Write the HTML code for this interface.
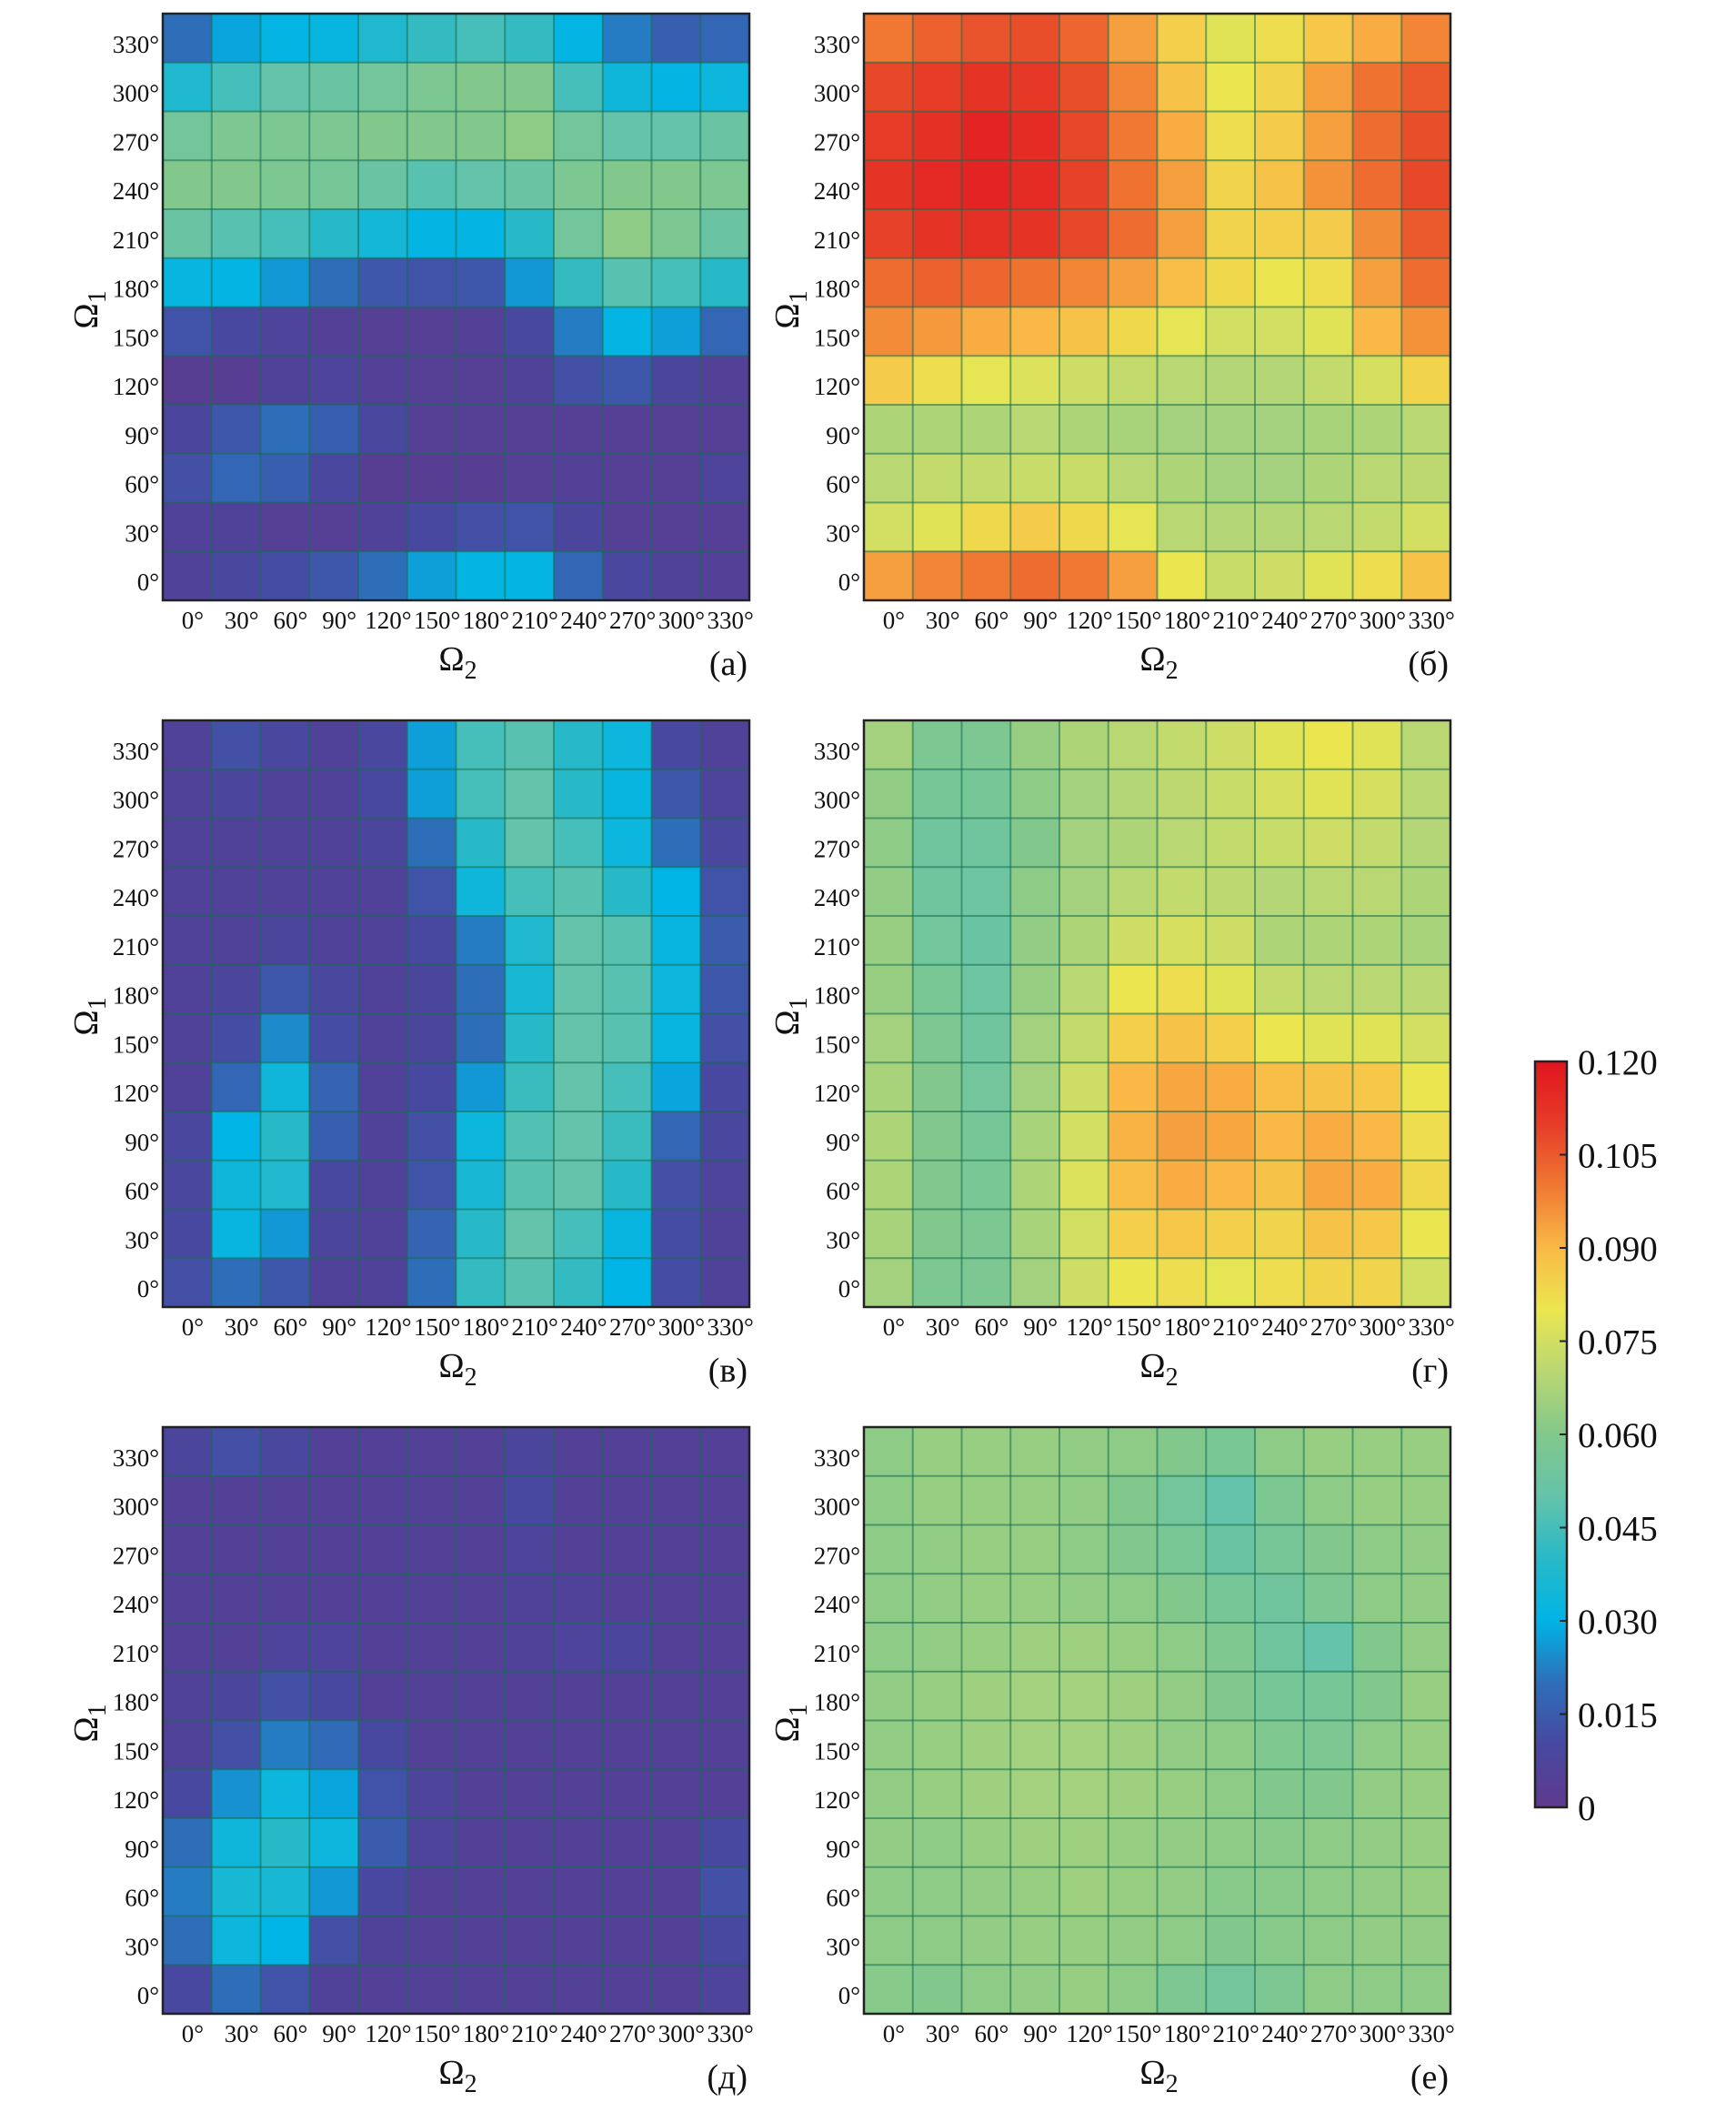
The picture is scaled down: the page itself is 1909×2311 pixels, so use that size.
<!DOCTYPE html>
<html><head><meta charset="utf-8">
<style>
html,body{margin:0;padding:0;background:#fff;}
svg{display:block;}
text{font-family:"Liberation Serif","DejaVu Serif",serif;fill:#111;}
</style></head>
<body>
<svg id="fig" width="1909" height="2311" viewBox="0 0 1909 2311" xmlns="http://www.w3.org/2000/svg"></svg>
<script>
// Categories
const omega2Labels = ["0°","30°","60°","90°","120°","150°","180°","210°","240°","270°","300°","330°"];
const omega1Labels = ["330°","300°","270°","240°","210°","180°","150°","120°","90°","60°","30°","0°"]; // top to bottom
const colorbarTicks = [0,0.015,0.030,0.045,0.060,0.075,0.090,0.105,0.120];
const colorbarTickLabels = ["0","0.015","0.030","0.045","0.060","0.075","0.090","0.105","0.120"];
const panelLetters = ["(a)","(б)","(в)","(г)","(д)","(е)"];

// Values: rows from Ω1=330° (top) to 0° (bottom), columns Ω2=0..330°
const panelA = [
[.02,.028,.031,.032,.038,.042,.045,.042,.031,.022,.016,.018],
[.038,.045,.05,.052,.055,.058,.06,.06,.045,.034,.031,.033],
[.055,.058,.058,.058,.06,.06,.06,.062,.055,.05,.05,.052],
[.06,.06,.058,.056,.052,.048,.05,.052,.058,.06,.06,.058],
[.052,.048,.045,.04,.035,.031,.031,.04,.055,.062,.058,.052],
[.032,.031,.026,.02,.014,.013,.014,.026,.042,.048,.045,.04],
[.013,.01,.007,.005,.004,.004,.005,.01,.022,.031,.027,.018],
[.003,.003,.006,.007,.005,.004,.004,.006,.012,.014,.008,.005],
[.008,.014,.02,.016,.009,.004,.004,.004,.004,.004,.004,.004],
[.012,.018,.016,.009,.003,.003,.003,.004,.005,.004,.004,.007],
[.006,.006,.004,.004,.006,.01,.012,.013,.008,.004,.004,.004],
[.006,.009,.011,.014,.02,.027,.031,.031,.018,.009,.006,.005]];
const panelB = [
[.1,.104,.106,.107,.103,.094,.085,.078,.082,.087,.092,.098],
[.108,.11,.112,.111,.107,.098,.088,.08,.084,.094,.101,.105],
[.11,.113,.116,.114,.108,.1,.092,.082,.086,.094,.102,.107],
[.112,.115,.116,.114,.109,.101,.094,.084,.088,.096,.102,.108],
[.109,.112,.113,.112,.108,.102,.094,.084,.085,.086,.097,.105],
[.102,.104,.103,.101,.098,.094,.089,.083,.08,.082,.094,.102],
[.097,.095,.092,.09,.088,.083,.079,.075,.075,.078,.09,.096],
[.086,.082,.079,.077,.074,.072,.07,.069,.069,.072,.076,.084],
[.068,.068,.068,.07,.068,.067,.066,.066,.066,.067,.068,.07],
[.07,.072,.072,.073,.073,.07,.068,.066,.066,.068,.07,.071],
[.075,.078,.083,.086,.083,.079,.07,.069,.069,.07,.072,.075],
[.094,.098,.1,.102,.1,.094,.08,.073,.074,.078,.082,.088]];
const panelV = [
[.006,.012,.009,.006,.009,.027,.045,.048,.04,.033,.01,.006],
[.006,.008,.006,.006,.01,.027,.045,.05,.04,.032,.014,.007],
[.006,.006,.006,.006,.008,.02,.04,.05,.045,.033,.02,.009],
[.006,.006,.006,.006,.006,.013,.034,.045,.048,.04,.03,.013],
[.006,.006,.008,.006,.006,.01,.022,.038,.05,.048,.032,.015],
[.006,.008,.014,.009,.006,.008,.02,.036,.05,.048,.033,.014],
[.006,.011,.024,.011,.006,.008,.02,.04,.05,.048,.032,.012],
[.006,.018,.034,.017,.006,.01,.026,.043,.05,.045,.028,.01],
[.009,.03,.04,.016,.006,.012,.033,.047,.05,.043,.018,.009],
[.009,.034,.038,.01,.006,.013,.036,.048,.05,.04,.012,.007],
[.01,.032,.026,.008,.006,.017,.04,.05,.045,.032,.011,.006],
[.012,.02,.014,.006,.006,.02,.042,.048,.042,.03,.011,.006]];
const panelG = [
[.066,.058,.058,.064,.068,.07,.072,.074,.078,.08,.078,.07],
[.063,.056,.056,.062,.066,.069,.071,.073,.076,.078,.076,.07],
[.062,.054,.054,.06,.066,.068,.07,.072,.073,.074,.072,.069],
[.063,.054,.053,.062,.066,.07,.072,.071,.069,.07,.07,.068],
[.064,.055,.052,.063,.068,.074,.076,.074,.068,.068,.068,.067],
[.064,.057,.053,.064,.07,.08,.082,.078,.072,.07,.07,.07],
[.066,.058,.054,.066,.072,.085,.088,.085,.08,.078,.078,.075],
[.067,.06,.055,.066,.074,.09,.093,.092,.089,.088,.087,.08],
[.068,.06,.056,.067,.075,.091,.094,.093,.09,.092,.09,.082],
[.068,.06,.057,.068,.077,.089,.092,.09,.088,.093,.092,.083],
[.067,.06,.058,.067,.075,.085,.087,.085,.084,.088,.087,.08],
[.066,.058,.058,.066,.074,.08,.082,.079,.082,.084,.084,.075]];
const panelD = [
[.008,.012,.009,.005,.005,.005,.005,.008,.005,.005,.005,.005],
[.005,.005,.005,.005,.005,.005,.005,.01,.005,.005,.005,.005],
[.005,.005,.005,.005,.005,.005,.005,.007,.005,.005,.005,.005],
[.005,.005,.005,.005,.005,.005,.005,.006,.006,.005,.005,.005],
[.005,.005,.007,.007,.005,.005,.005,.006,.007,.008,.005,.005],
[.006,.008,.012,.01,.005,.005,.005,.005,.005,.005,.005,.005],
[.006,.012,.022,.019,.01,.005,.005,.005,.005,.005,.005,.005],
[.01,.025,.033,.028,.013,.007,.005,.005,.005,.005,.005,.005],
[.02,.034,.04,.033,.015,.007,.005,.005,.005,.005,.005,.01],
[.022,.036,.036,.026,.01,.005,.005,.005,.005,.005,.005,.012],
[.02,.033,.03,.012,.006,.005,.005,.005,.005,.005,.005,.01],
[.01,.02,.013,.006,.005,.005,.005,.005,.005,.005,.005,.007]];
const panelE = [
[.062,.064,.064,.064,.063,.062,.06,.057,.062,.064,.064,.064],
[.062,.064,.064,.064,.063,.06,.055,.05,.058,.062,.064,.064],
[.062,.063,.064,.064,.062,.06,.057,.052,.056,.06,.062,.063],
[.062,.063,.064,.064,.063,.062,.06,.056,.054,.058,.062,.063],
[.062,.063,.064,.065,.065,.064,.062,.059,.054,.05,.06,.063],
[.063,.064,.065,.066,.066,.065,.063,.06,.056,.056,.06,.064],
[.063,.064,.065,.066,.066,.065,.063,.062,.059,.058,.062,.064],
[.063,.064,.065,.066,.066,.065,.064,.062,.06,.06,.063,.064],
[.063,.062,.064,.065,.065,.064,.063,.062,.061,.062,.063,.064],
[.062,.062,.063,.064,.065,.064,.063,.061,.061,.062,.063,.064],
[.062,.062,.063,.064,.064,.063,.062,.06,.061,.062,.063,.063],
[.061,.06,.062,.063,.064,.062,.058,.055,.058,.062,.062,.062]];

const NS = "http://www.w3.org/2000/svg";
const svg = document.getElementById("fig");
const vmin = 0, vmax = 0.12;
const cmapStops = [
 [0,[94,58,142]],[0.01,[72,72,160]],[0.02,[46,110,185]],[0.03,[0,180,230]],
 [0.04,[40,185,200]],[0.05,[100,195,170]],[0.06,[130,200,140]],[0.07,[185,215,115]],
 [0.08,[235,230,80]],[0.09,[250,185,70]],[0.10,[240,120,50]],[0.11,[230,60,40]],[0.12,[225,20,30]]];
function cmap(v){
  v=Math.max(vmin,Math.min(vmax,v));
  for(let i=0;i<cmapStops.length-1;i++){
    const a=cmapStops[i],b=cmapStops[i+1];
    if(v<=b[0]){const t=(v-a[0])/(b[0]-a[0]);
      return "rgb("+a[1].map((c,k)=>Math.round(c+(b[1][k]-c)*t)).join(",")+")";}
  }
  return "rgb(225,20,30)";
}
function el(tag,attrs,parent){const e=document.createElementNS(NS,tag);for(const k in attrs)e.setAttribute(k,attrs[k]);(parent||svg).appendChild(e);return e;}

const panels = [panelA,panelB,panelV,panelG,panelD,panelE];
const panelNames = ["a","b","v","g","d","e"];
const colX = [179,950];
const rowY = [15,792,1569];
const size = 645;

panels.forEach((data,p)=>{
  const x0 = colX[p%2], y0 = rowY[Math.floor(p/2)];
  const g = el("g",{});
  
  
  const nC = omega2Labels.length, nR = omega1Labels.length;
  const cw = size/nC, ch = size/nR;
  const xs = i=>x0+i*cw, ys = j=>y0+j*ch;
  data.forEach((row,j)=>row.forEach((v,i)=>{
    const r = el("rect",{x:xs(i),y:ys(j),width:cw+0.5,height:ch+0.5,fill:cmap(v)},g);
    
    
  }));
  for(let i=1;i<nC;i++) el("line",{x1:xs(i),x2:xs(i),y1:y0,y2:y0+size,stroke:"rgba(20,110,80,0.55)","stroke-width":2},g);
  for(let j=1;j<nR;j++) el("line",{x1:x0,x2:x0+size,y1:ys(j),y2:ys(j),stroke:"rgba(20,110,80,0.55)","stroke-width":2},g);
  const fr = el("rect",{x:x0,y:y0,width:size,height:size,fill:"none",stroke:"#222","stroke-width":2.5},g);
  
  
  omega1Labels.forEach((t,j)=>{
    const tx = el("text",{x:x0-4,y:ys(j)+ch/2+16,"text-anchor":"end","font-size":27},g);
    tx.textContent=t;
    
    
  });
  omega2Labels.forEach((t,i)=>{
    const tx = el("text",{x:xs(i)+cw/2+6,y:y0+size+31,"text-anchor":"middle","font-size":27},g);
    tx.textContent=t;
    
    
  });
  const xt = el("text",{x:x0+size/2+2,y:y0+size+77,"text-anchor":"middle","font-size":38},g);
  xt.innerHTML='Ω<tspan dy="9" font-size="28">2</tspan>';
  
  
  const yt = el("text",{transform:"translate("+(x0-72)+","+(y0+size/2+3)+") rotate(-90)","text-anchor":"middle","font-size":38},g);
  yt.innerHTML='Ω<tspan dy="9" font-size="28">1</tspan>';
  
  
  const lt = el("text",{x:x0+size-2,y:y0+size+82,"text-anchor":"end","font-size":38},g);
  lt.textContent=panelLetters[p];
  
  
});

// Colorbar
const cb = el("g",{});


const cbX=1688, cbY=1167, cbW=35, cbH=820;
const cy = v=>cbY+cbH-(v-vmin)/(vmax-vmin)*cbH;
const defs = el("defs",{},cb);
const grad = el("linearGradient",{id:"cbg",x1:0,y1:1,x2:0,y2:0},defs);
cmapStops.forEach(s=>el("stop",{offset:(s[0]-vmin)/(vmax-vmin),"stop-color":"rgb("+s[1].join(",")+")"},grad));
el("rect",{x:cbX,y:cbY,width:cbW,height:cbH,fill:"url(#cbg)",stroke:"#222","stroke-width":2.5},cb);
colorbarTicks.forEach((v,k)=>{
  el("line",{x1:cbX+cbW-8,x2:cbX+cbW,y1:cy(v),y2:cy(v),stroke:"#222","stroke-width":2},cb);
  const t = el("text",{x:cbX+cbW+12,y:cy(v)+14,"font-size":39},cb);
  t.textContent=colorbarTickLabels[k];
  
  
});
</script>
</body></html>
